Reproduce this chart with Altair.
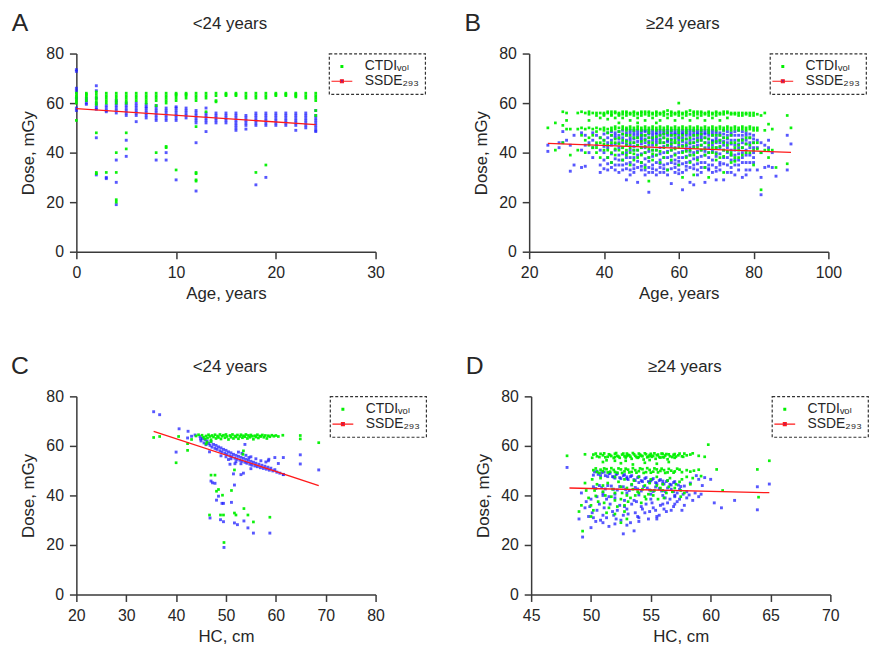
import altair as alt
import pandas as pd

FONT = "Liberation Sans, Arial, Helvetica, DejaVu Sans, sans-serif"
GREEN = "#00f000"
BLUE = "#1f1fff"
RED = "#ff1a1a"
TXT = "#262626"
AXIS = "#3a3a3a"

CT_LABEL = "CTDIᵥₒₗ"
SS_LABEL = "SSDE₂₉₃"

# ---------------- Panel A: age (<24 y) ----------------
A_ctdi = {
    0: [64, 63, 62, 61, 60, 53], 1: [64, 63.5, 63, 62, 61],
    2: [64.5, 63.5, 62.5, 61.5, 60.5, 59.5, 48, 32, 31.5], 3: [64, 63, 62, 61, 60, 32],
    4: [64, 63, 62, 61, 60, 40, 32, 21, 20], 5: [64, 63, 62, 61, 60, 48, 41.5],
    6: [64, 63, 62, 61], 7: [64, 63, 62, 61, 60], 8: [64, 63, 62, 61, 59, 40],
    9: [64, 63, 62, 61, 60, 42.5, 42], 10: [64, 63.5, 63, 62, 61, 33], 11: [64, 63.5, 63, 62],
    12: [64, 63, 62, 61, 50.5, 32, 31.5, 29, 28.5], 13: [64, 63, 62, 56.5], 14: [64, 63, 61, 60.5],
    15: [64, 63.5, 63], 16: [64, 63.5, 63], 17: [64, 63, 62], 18: [64, 63, 62, 32],
    19: [64, 63, 62, 35], 20: [64, 63.5, 63], 21: [64, 63.5, 63], 22: [64, 63.5, 63, 62.5],
    23: [64, 63, 62], 24: [64, 63, 62, 61, 57, 55],
}
A_ssde = {
    0: [73.5, 72.8, 66, 65, 62, 58, 57], 1: [62, 61, 60, 59.5],
    2: [67, 65, 62, 60, 59, 58, 57.5, 46, 31], 3: [59, 58, 57, 56.5, 30, 29.5],
    4: [61, 60, 59, 58, 57, 56, 37, 28, 19], 5: [60, 59, 58, 57, 56, 55, 45, 38.5],
    6: [60, 59, 58, 57, 56, 55, 52.5], 7: [59.5, 58.5, 58, 57, 56, 55, 54],
    8: [59, 58, 57, 56, 55, 54, 53, 37], 9: [58, 57, 56, 55, 54, 53, 40, 37],
    10: [58.5, 58, 57, 56, 55, 54, 53, 29], 11: [58, 57, 56, 55, 54],
    12: [57, 56, 55, 54, 53, 52, 44, 24.5], 13: [58, 56, 55, 54, 53, 52, 48.5],
    14: [56, 55, 54, 53, 52], 15: [56, 55, 54, 53, 52], 16: [56, 55, 54, 53, 52, 51, 50, 49],
    17: [55, 54, 53, 52, 51, 49.5], 18: [56, 55, 54, 53, 52, 51, 27],
    19: [56, 55, 54, 53, 52, 51, 30], 20: [56, 55, 54, 53, 52, 51], 21: [56, 55, 54, 53, 52, 51],
    22: [56, 55, 54, 53, 52, 51, 49], 23: [56, 55, 54, 53, 52, 51, 50],
    24: [57, 55, 54, 53, 52, 51, 50, 49, 48.5],
}
A_line_x = [0, 24]
A_line_y = [57.8, 51.3]

# ---------------- Panel B: age (>=24 y) ----------------
B_ctdi = {
    25: [50], 27: [52, 41], 29: [56.5, 51, 44], 30: [56, 53, 49.5], 31: [49.5, 39],
    33: [56, 49.5, 41], 34: [56.5, 50, 47], 35: [56, 49.5, 45, 40], 36: [56.5, 53, 50, 43],
    37: [56, 49.5, 47, 42], 38: [56, 55, 50, 44, 40], 39: [54, 49.5, 46, 38],
    40: [56, 55, 50, 45, 41], 41: [56, 53.5, 49.5, 43, 38], 42: [56.5, 55, 50, 47, 40, 36],
    43: [56, 54, 49.5, 44, 39], 44: [56, 55, 52, 50, 46, 41], 45: [56.5, 54, 49.5, 45, 42, 37],
    46: [56, 55, 50, 47, 43, 39], 47: [56, 53, 49.5, 44, 40, 35], 48: [56.5, 55, 50, 46, 41, 37],
    49: [56, 54, 52, 49.5, 43, 38], 50: [56, 55, 50, 47, 42, 36], 51: [56.5, 53, 49.5, 45, 40, 34],
    52: [56, 55, 50, 48, 44, 38, 28.5], 53: [56, 54, 49.5, 46, 41, 37], 54: [56.5, 55, 52, 50, 43, 39],
    55: [56, 53, 49.5, 47, 44, 36], 56: [56.5, 55, 50, 46, 42, 38], 57: [57, 54, 49.5, 48, 43, 33],
    58: [56, 55, 50, 45, 41, 37], 59: [56, 53, 49.5, 47, 44, 39], 60: [60, 56, 55, 50, 46, 42, 35],
    61: [56, 54, 49.5, 45, 40, 30], 62: [56.5, 55, 50, 48, 43, 38], 63: [57, 53, 49.5, 46, 41, 36],
    64: [56, 55, 50, 44, 39, 31], 65: [56.5, 54, 49.5, 47, 42, 37], 66: [56, 55, 50, 45, 41],
    67: [56, 53, 49.5, 46, 39, 34], 68: [56.5, 55, 50, 48, 43, 30], 69: [56, 54, 49.5, 44, 40],
    70: [56, 55, 50, 47, 42, 37], 71: [56, 53, 49.5, 45, 38], 72: [56.5, 50, 46, 41, 32],
    73: [56, 54, 49.5, 43], 74: [55.5, 50, 47, 40, 36], 75: [56, 49.5, 44, 38], 76: [55, 50, 45, 41],
    77: [56, 49.5, 42], 78: [55.5, 50, 46, 40], 79: [55, 49.5, 43], 80: [56, 50, 41, 35],
    81: [55.5, 49, 44], 82: [55, 40, 25], 83: [56, 49, 41], 84: [51.5, 41, 38], 85: [49.5, 41],
    86: [34], 89: [55, 35.5], 90: [50],
}
B_ctdi_more = {
    36: [55.5, 46], 38: [48.5, 42], 39: [56, 44], 40: [55.5, 49, 43.5], 41: [56.5, 48, 41],
    42: [55.5, 49, 44], 43: [56.5, 50.5, 45.5, 41.5], 44: [55.5, 48.5, 43.5],
    45: [55.5, 50.5, 47.5, 40], 46: [56.5, 49, 44.5, 41], 47: [55.5, 50.5, 47, 42],
    48: [56, 49, 44, 39.5], 49: [55.5, 50.5, 46, 41], 50: [56.5, 49, 44.5, 39],
    51: [55.5, 50.5, 47, 42.5], 52: [56.5, 49, 46, 41.5], 53: [55.5, 50.5, 44, 39.5],
    54: [56, 49, 46.5, 41], 55: [55.5, 50.5, 45, 40.5], 56: [56, 49, 47.5, 44],
    57: [55.5, 50.5, 45.5, 40], 58: [56.5, 49, 47, 43.5], 59: [55.5, 50.5, 45, 41.5],
    60: [56.5, 49, 48, 44], 61: [55.5, 50.5, 47, 42.5], 62: [56, 49, 45.5, 40.5],
    63: [55.5, 50.5, 44, 39], 64: [56.5, 49, 47, 42], 65: [55.5, 50.5, 45, 40],
    66: [56.5, 49, 47.5, 43], 67: [55.5, 50.5, 44, 41.5], 68: [56, 49, 45.5, 40],
    69: [55.5, 50.5, 47, 42], 70: [56.5, 49, 44.5, 39.5], 71: [55.5, 50.5, 47, 42.5],
    72: [55.5, 49, 44, 38.5], 73: [56.5, 50.5, 46, 40.5], 74: [56, 49, 44, 39],
    75: [55.5, 50.5, 42, 36.5], 76: [56, 49, 43, 38], 77: [55, 50.5, 45, 39],
    78: [56, 49, 43.5], 79: [56, 50.5, 46, 40], 80: [55, 49, 44], 81: [50, 41.5],
}
B_ssde = {
    25: [43, 40.5], 28: [42, 44], 29: [48.5, 44], 30: [45], 31: [32.5, 43], 32: [47, 35],
    34: [48, 41, 34], 35: [47, 43, 34.5], 36: [44, 40], 37: [48, 45, 42, 38], 38: [47, 43],
    39: [46, 41, 35, 32], 40: [45, 40, 33.5], 41: [48, 44, 38, 33], 42: [47, 43, 36, 34],
    43: [48, 46, 41, 33], 44: [47, 44, 39, 35, 32], 45: [49, 46, 42, 37, 33],
    46: [49.5, 47, 45, 40, 33.5, 29], 47: [48, 46, 43, 38, 33, 31], 48: [49, 47, 44, 41, 35, 32],
    49: [48, 46, 43, 39, 34, 28], 50: [49, 47, 45, 42, 36, 33], 51: [48.5, 47, 44, 40, 33, 31],
    52: [49, 46, 43, 38, 34, 24], 53: [48, 47, 45, 41, 35, 32], 54: [49, 46, 44, 39, 33, 31],
    55: [48, 47, 42, 37, 34], 56: [49, 46, 44, 40, 35, 32], 57: [48, 45, 43, 38, 33, 31],
    58: [49, 47, 44, 41, 36, 27.5], 59: [48, 46, 42, 37, 34, 32], 60: [49, 47, 45, 40, 35, 33],
    61: [48, 46, 43, 38, 32, 25], 62: [49, 47, 44, 41, 36, 33], 63: [48, 45, 42, 39, 34, 28],
    64: [49, 47, 44, 40, 35, 27], 65: [48, 46, 43, 38, 33, 31], 66: [49, 47, 45, 41, 36, 32],
    67: [48, 46, 42, 39, 34, 28], 68: [49, 47, 44, 40, 35, 33], 69: [48, 45, 43, 37, 32],
    70: [48.5, 46, 44, 40, 34, 29], 71: [48, 45, 42, 36, 33], 72: [49, 46, 43, 38, 29],
    73: [47, 44, 40, 35, 32], 74: [48, 45, 41, 37, 34], 75: [47, 43, 39, 35, 31],
    76: [49, 45, 42, 37, 33], 77: [47, 44, 40, 36, 30], 78: [48, 45, 41, 36, 33],
    79: [46, 42, 39, 33], 80: [47, 44, 40, 36], 81: [45, 42, 33], 82: [44, 40, 30, 23],
    83: [43, 34], 84: [45, 42, 34.5], 85: [40, 34], 86: [30.5], 89: [47, 33], 90: [43.5],
}
B_ssde_more = {
    40: [47.5, 42.5, 37], 41: [46, 42, 35.5], 42: [48.5, 45, 39.5], 43: [47, 43.5, 37.5, 35],
    44: [48.5, 45.5, 42, 37], 45: [47.5, 44, 39.5, 35], 46: [48, 43.5, 38, 35.5],
    47: [49, 45, 41, 36], 48: [48, 45.5, 42.5, 38, 33.5], 49: [49, 47, 44.5, 41, 36.5],
    50: [48, 46, 43.5, 39.5, 34.5], 51: [49, 45.5, 42, 37.5, 35], 52: [48, 47.5, 44.5, 40.5, 36.5, 32],
    53: [49, 46, 43, 38.5, 33.5], 54: [48, 47.5, 45, 41, 36], 55: [49, 45.5, 44, 39.5, 35.5, 32],
    56: [48, 47.5, 42.5, 38, 33.5], 57: [49, 47, 44.5, 40.5, 35.5], 58: [48, 45.5, 42.5, 38.5, 33.5],
    59: [49, 47.5, 44, 39.5, 35.5], 60: [48, 46, 43, 38, 36.5, 31.5], 61: [49, 47.5, 44.5, 40.5, 35.5],
    62: [48, 45.5, 42.5, 38.5, 34.5], 63: [49, 47, 43.5, 40.5, 36.5], 64: [48, 45.5, 42.5, 37.5, 33.5],
    65: [49, 47.5, 44.5, 40.5, 35.5], 66: [48, 46, 43, 38.5, 34], 67: [49, 47.5, 44, 40.5, 36],
    68: [48, 45.5, 42, 38, 33.5], 69: [49, 47, 44.5, 40.5, 35], 70: [47.5, 45, 42, 38.5, 32.5],
    71: [47, 44, 39.5, 35], 72: [47.5, 44.5, 41, 35.5], 73: [48.5, 45.5, 42, 38],
    74: [47, 43.5, 39, 32], 75: [48.5, 45, 41, 37], 76: [47, 43.5, 39.5, 35],
    77: [48.5, 45.5, 42, 38], 78: [47, 43.5, 39, 31], 79: [47.5, 44, 36], 80: [45.5, 42, 38],
}
B_line_x = [25, 90]
B_line_y = [43.7, 40.1]

# ---------------- Panel C: head circumference (<24 y) ----------------
C_ctdi = [
    (35.5, 63.4), (36.7, 63.8), (40.0, 53.2), (40.5, 63.8), (42.3, 60.9), (42.3, 58.2),
    (43.1, 62.6), (44.0, 64.0), (44.5, 64.5), (45.2, 64.3), (45.5, 63.5), (45.8, 62.8),
    (46.0, 64.0), (46.3, 63.2), (46.5, 64.5), (46.8, 63.8), (47.0, 62.5), (47.2, 64.2),
    (47.5, 63.6), (47.8, 64.5), (48.0, 63.0), (48.3, 64.0), (48.5, 63.4), (48.8, 64.6),
    (49.0, 62.8), (49.2, 63.9), (49.5, 64.3), (49.8, 63.3), (50.0, 64.6), (50.2, 63.8),
    (50.5, 62.6), (50.8, 64.2), (51.0, 63.5), (51.3, 64.6), (51.5, 63.0), (51.8, 64.0),
    (52.0, 63.6), (52.3, 64.4), (52.5, 62.9), (52.8, 63.8), (53.0, 64.5), (53.3, 63.3),
    (53.5, 64.1), (53.8, 63.7), (54.0, 64.6), (54.3, 63.0), (54.5, 64.2), (54.8, 63.5),
    (55.0, 64.4), (55.3, 63.9), (55.5, 62.7), (55.8, 64.1), (56.0, 63.6), (56.3, 64.5),
    (56.5, 63.2), (56.8, 64.0), (57.0, 63.8), (57.3, 64.4), (57.6, 63.5), (57.9, 64.2),
    (58.2, 63.0), (58.5, 64.1), (58.8, 63.7), (59.2, 64.3), (59.6, 63.9), (60.0, 64.2),
    (60.5, 63.8), (61.4, 64.3), (46.2, 61.5), (46.0, 60.8), (47.0, 61.8), (53.5, 58.0),
    (53.4, 56.6), (51.7, 50.3), (47.0, 48.2), (47.8, 48.2), (48.1, 41.7), (48.5, 42.4),
    (49.3, 40.1), (46.7, 32.1), (48.9, 32.1), (49.5, 32.1), (49.6, 21.0), (51.1, 42.0),
    (51.7, 32.9), (52.0, 32.1), (53.6, 34.7), (54.4, 32.1), (55.5, 29.3), (58.8, 31.2),
    (64.9, 64.2), (64.9, 62.8), (68.6, 61.3),
]
C_ssde = [
    (35.5, 73.8), (36.7, 72.6), (40.6, 66.9), (40.0, 57.5), (42.4, 65.9), (42.3, 63.2),
    (43.1, 63.9), (43.8, 64.4), (44.9, 62.8), (46.7, 57.6), (47.0, 45.8), (47.3, 45.1),
    (47.8, 44.9), (48.5, 39.7), (48.1, 38.1), (49.2, 36.8), (49.5, 36.8), (46.8, 30.9),
    (48.9, 30.2), (49.5, 29.4), (49.6, 19.0), (51.1, 37.2), (51.7, 44.2), (51.5, 48.7),
    (51.7, 28.9), (52.3, 28.2), (53.6, 29.7), (54.4, 26.9), (55.5, 24.8), (58.8, 24.8),
    (53.0, 48.4), (53.5, 49.0), (53.8, 60.6), (54.6, 55.3), (59.8, 55.3), (61.5, 55.3),
    (60.5, 52.9), (58.6, 54.6), (61.5, 48.4), (64.9, 56.4), (64.9, 52.7), (68.6, 50.3),
    (44.8, 63.8), (45.0, 62.0), (45.3, 63.0), (45.6, 61.2), (45.8, 62.6), (46.0, 60.5),
    (46.2, 62.0), (46.5, 61.0), (46.8, 60.2), (47.0, 61.6), (47.2, 59.5), (47.5, 60.6),
    (47.8, 59.0), (48.0, 60.2), (48.2, 58.6), (48.5, 59.6), (48.8, 58.0), (49.0, 59.2),
    (49.2, 57.5), (49.5, 58.6), (49.8, 57.0), (50.0, 58.2), (50.2, 56.5), (50.5, 57.6),
    (50.8, 56.0), (51.0, 57.2), (51.2, 55.6), (51.5, 56.6), (51.8, 55.0), (52.0, 56.2),
    (52.2, 54.6), (52.5, 55.8), (52.8, 54.2), (53.0, 55.4), (53.2, 53.8), (53.5, 55.0),
    (53.8, 53.4), (54.0, 54.6), (54.2, 53.0), (54.5, 54.2), (54.8, 52.6), (55.0, 53.8),
    (55.2, 52.2), (55.5, 53.4), (55.8, 51.9), (56.0, 53.0), (56.3, 51.6), (56.6, 52.6),
    (56.9, 51.2), (57.2, 52.2), (57.5, 50.9), (57.8, 51.8), (58.1, 50.6), (58.4, 51.4),
    (58.7, 50.2), (59.0, 51.0), (59.4, 49.9), (59.8, 50.4), (60.2, 49.4), (60.8, 49.0),
    (61.5, 48.5), (53.0, 52.8), (52.0, 53.6), (51.0, 54.8), (50.0, 55.6), (54.0, 56.2),
    (55.0, 55.6), (56.0, 54.8), (57.0, 54.0), (58.0, 53.5), (53.2, 57.0), (51.8, 52.8),
    (50.8, 52.6), (55.0, 50.8), (58.5, 54.0), (49.0, 56.0), (50.5, 54.5), (52.5, 57.5),
]
C_line_x = [35.5, 68.6]
C_line_y = [65.9, 44.0]

# ---------------- Panel D: head circumference (>=24 y) ----------------
D_ctdi = [
    (50.2, 56.5), (50.5, 55.8), (50.8, 56.8), (51.0, 56.2), (51.2, 55.4), (51.5, 56.6),
    (51.7, 55.9), (52.0, 56.8), (52.2, 56.0), (52.4, 55.2), (52.6, 56.5), (52.8, 55.8),
    (53.0, 56.9), (53.2, 56.2), (53.4, 54.8), (53.6, 56.6), (53.8, 55.5), (54.0, 56.9),
    (54.2, 56.1), (54.4, 54.5), (54.6, 56.6), (54.8, 55.7), (55.0, 56.8), (55.2, 56.0),
    (55.4, 54.8), (55.6, 56.5), (55.8, 55.3), (56.0, 56.8), (56.2, 56.1), (56.5, 56.6),
    (56.8, 55.5), (57.0, 56.7), (57.3, 56.2), (57.6, 55.8), (57.8, 56.9), (58.3, 56.5),
    (59.0, 56.0), (59.5, 55.6), (59.8, 60.5), (51.0, 53.5), (52.5, 53.0), (53.5, 52.5),
    (54.5, 53.2), (55.5, 52.8), (56.5, 53.5), (52.0, 54.0), (48.0, 56.0), (49.5, 56.6),
    (50.2, 50.2), (50.5, 49.5), (50.8, 50.4), (51.0, 49.8), (51.3, 50.6), (51.6, 49.6),
    (51.9, 50.3), (52.2, 49.2), (52.5, 50.5), (52.8, 49.7), (53.1, 50.4), (53.4, 49.5),
    (53.7, 50.2), (54.0, 49.8), (54.3, 50.6), (54.6, 49.4), (54.9, 50.3), (55.2, 49.6),
    (55.5, 50.5), (55.8, 49.9), (56.1, 50.2), (56.4, 49.3), (56.7, 50.0), (57.0, 49.7),
    (57.4, 50.4), (58.0, 50.2), (58.6, 50.0), (60.5, 50.5), (63.9, 50.5), (64.9, 54.0),
    (49.5, 45.0), (49.8, 39.0), (50.0, 36.0), (50.3, 42.0), (50.6, 37.5), (51.0, 44.0),
    (51.2, 40.0), (51.5, 35.0), (51.8, 42.5), (52.0, 38.0), (52.3, 45.5), (52.6, 41.0),
    (52.8, 36.0), (53.0, 43.0), (53.3, 39.0), (53.6, 46.0), (53.9, 41.5), (54.2, 37.0),
    (54.5, 44.0), (54.8, 40.5), (55.0, 46.5), (55.3, 42.0), (55.6, 38.5), (56.0, 44.5),
    (56.3, 41.0), (56.6, 47.0), (57.0, 43.0), (57.4, 45.5), (57.8, 41.0), (58.5, 47.0),
    (61.0, 42.0), (64.0, 39.3), (49.3, 25.6), (49.0, 33.5), (50.0, 31.5), (53.0, 30.5),
    (52.5, 29.0),
]
D_ctdi_more = [
    (50.1, 55.2), (50.4, 56.9), (50.7, 55.5), (51.1, 57.0), (51.4, 55.6), (51.6, 56.3),
    (51.9, 55.1), (52.1, 57.1), (52.3, 55.7), (52.7, 56.9), (52.9, 55.3), (53.1, 56.4),
    (53.3, 55.6), (53.5, 57.1), (53.7, 56.0), (53.9, 55.2), (54.1, 56.5), (54.3, 55.8),
    (54.5, 57.0), (54.7, 55.4), (54.9, 56.3), (55.1, 55.6), (55.3, 57.0), (55.5, 56.2),
    (55.7, 55.5), (55.9, 56.9), (56.1, 55.4), (56.3, 56.7), (56.6, 55.8), (56.9, 56.4),
    (57.1, 55.7), (57.4, 56.9), (57.7, 55.6), (58.0, 56.2), (58.5, 57.0), (52.0, 55.5),
    (53.0, 55.9), (54.0, 55.5), (55.0, 55.9), (56.0, 55.5), (57.0, 55.2), (51.3, 54.2),
    (52.9, 54.0), (54.9, 54.3), (56.4, 54.6),
    (50.4, 50.9), (50.7, 49.1), (51.1, 50.9), (51.4, 49.3), (51.7, 51.0), (52.0, 49.5),
    (52.3, 50.9), (52.6, 49.1), (52.9, 50.8), (53.2, 49.3), (53.5, 51.0), (53.8, 49.2),
    (54.1, 50.9), (54.4, 49.1), (54.7, 51.0), (55.0, 49.2), (55.3, 50.9), (55.6, 49.3),
    (55.9, 50.8), (56.2, 49.1), (56.5, 50.7), (56.9, 49.2), (57.2, 50.8), (57.6, 49.4),
    (58.3, 49.6), (59.0, 50.4), (58.0, 47.5), (57.6, 46.5),
    (49.6, 42.0), (50.1, 46.5), (50.4, 39.8), (50.8, 47.0), (51.1, 37.0), (51.4, 45.0),
    (51.7, 39.5), (52.0, 47.5), (52.2, 35.5), (52.5, 43.5), (52.8, 46.5), (53.1, 37.5),
    (53.4, 44.5), (53.7, 40.0), (54.0, 47.5), (54.3, 42.5), (54.6, 38.5), (54.9, 45.0),
    (55.2, 40.0), (55.5, 47.5), (55.8, 43.0), (56.1, 39.0), (56.4, 46.0), (56.8, 41.5),
    (57.1, 44.5), (57.5, 39.5), (52.0, 41.0), (53.0, 40.0), (54.0, 41.0), (55.0, 42.0),
    (56.0, 42.0), (51.0, 41.5), (50.5, 44.5), (52.5, 38.5), (53.5, 42.5), (54.5, 39.5),
    (55.5, 44.0), (56.5, 43.5), (57.5, 42.0), (58.3, 44.5), (59.2, 47.8), (50.2, 34.0),
    (51.3, 33.0), (52.0, 32.5), (52.8, 33.5), (49.2, 36.0),
]
D_ssde = [
    (50.3, 49.5), (50.6, 48.5), (50.9, 49.2), (51.2, 48.0), (51.5, 48.8), (51.8, 47.6),
    (52.1, 48.4), (52.4, 47.2), (52.7, 48.0), (53.0, 46.8), (53.3, 47.6), (53.6, 46.4),
    (53.9, 47.2), (54.2, 46.0), (54.5, 46.8), (54.8, 45.6), (55.1, 46.4), (55.4, 45.2),
    (55.7, 46.0), (56.0, 44.8), (56.3, 45.6), (56.6, 44.5), (56.9, 45.2), (57.3, 44.2),
    (57.8, 43.8), (58.3, 45.0), (59.0, 46.5), (59.5, 47.2), (60.0, 46.5), (58.8, 48.0),
    (59.3, 44.0), (50.2, 43.5), (50.7, 44.0), (51.2, 42.6), (51.7, 43.8), (52.2, 42.2),
    (52.7, 43.5), (53.2, 42.0), (53.7, 43.2), (54.2, 41.8), (54.7, 43.0), (55.2, 41.6),
    (55.7, 42.8), (56.2, 41.5), (56.7, 42.5), (57.2, 41.0), (57.7, 40.5), (58.2, 40.2),
    (58.7, 41.0), (59.2, 40.5), (49.2, 41.0), (49.5, 35.0), (49.8, 31.5), (50.1, 33.0),
    (50.4, 29.5), (50.7, 36.5), (51.0, 32.0), (51.3, 38.5), (51.5, 27.5), (51.8, 33.5),
    (52.1, 30.5), (52.4, 36.0), (52.7, 32.0), (53.0, 34.5), (53.3, 29.0), (53.6, 38.0),
    (53.9, 31.5), (54.2, 35.5), (54.5, 33.0), (54.8, 30.5), (55.1, 37.0), (55.4, 34.0),
    (55.7, 32.0), (56.0, 36.5), (56.3, 33.5), (56.6, 38.5), (56.9, 35.5), (57.2, 37.5),
    (57.6, 34.0), (58.0, 39.0), (48.0, 51.3), (49.3, 23.2), (52.7, 24.5), (53.6, 25.7),
    (50.0, 27.0), (49.0, 30.5), (49.6, 37.5), (50.5, 39.5), (51.0, 40.0), (52.0, 39.0),
    (60.3, 37.0), (60.9, 35.0), (63.9, 43.5), (63.9, 34.2), (64.9, 44.6), (62.0, 38.0),
]
D_ssde_more = [
    (50.2, 48.2), (50.5, 49.8), (50.8, 48.0), (51.1, 49.4), (51.4, 47.6), (51.6, 49.0),
    (51.9, 47.4), (52.2, 48.8), (52.5, 46.8), (52.8, 48.4), (53.1, 46.4), (53.4, 48.0),
    (53.7, 46.0), (54.0, 47.6), (54.3, 45.6), (54.6, 47.2), (54.9, 45.2), (55.2, 46.8),
    (55.5, 44.8), (55.8, 46.4), (56.1, 44.6), (56.4, 46.0), (56.7, 44.2), (57.0, 45.6),
    (57.5, 43.6), (52.0, 47.0), (53.0, 47.5), (54.0, 45.2), (55.0, 45.9), (56.0, 45.8),
    (50.4, 42.8), (50.9, 43.2), (51.4, 44.0), (51.9, 42.5), (52.4, 43.6), (52.9, 42.4),
    (53.4, 44.2), (53.9, 42.6), (54.4, 43.6), (54.9, 42.2), (55.4, 43.4), (55.9, 41.8),
    (56.4, 43.0), (56.9, 41.5), (57.4, 42.5), (51.0, 41.0), (52.0, 40.5), (53.0, 41.0),
    (54.0, 40.2), (55.0, 40.5), (56.0, 40.0), (57.0, 39.5), (58.0, 41.5),
    (49.9, 35.5), (50.2, 31.0), (50.5, 34.0), (50.8, 30.0), (51.1, 35.0), (51.3, 31.0),
    (51.6, 36.5), (51.9, 32.0), (52.2, 34.0), (52.5, 30.0), (52.8, 35.5), (53.1, 32.5),
    (53.4, 36.5), (53.7, 33.0), (54.0, 31.0), (54.3, 34.5), (54.6, 36.5), (54.9, 33.5),
    (55.2, 35.0), (55.5, 31.5), (55.8, 36.0), (56.1, 34.5), (56.4, 37.0), (56.7, 34.0),
    (57.0, 36.5), (57.4, 38.5), (57.8, 36.0), (52.0, 28.5), (53.0, 28.0), (51.0, 29.0),
    (54.0, 29.5), (55.5, 30.5), (50.0, 38.5), (51.5, 39.5), (52.8, 38.0), (53.8, 37.5),
    (55.0, 38.5), (56.2, 39.0), (57.0, 40.0), (58.5, 38.0), (59.0, 39.5),
]
D_line_x = [48.2, 64.9]
D_line_y = [43.0, 41.1]

Y_TICKS = [0, 20, 40, 60, 80]
SYMBOL = "M-2.1,0H2.1M-0.3,-0.3H0.3V0.3H-0.3Z"
W, H = 302, 200


def pairs(*sets):
    out = []
    for d in sets:
        if isinstance(d, dict):
            out += [(k, v) for k, vals in d.items() for v in vals]
        else:
            out += list(d)
    return out


def panel(letter, heading, ct_pts, ss_pts, line_x, line_y, x_domain, x_ticks, x_title,
          legend_x):
    ct, ss = CT_LABEL, SS_LABEL
    dom = [ct, ss]
    df_ct = pd.DataFrame(ct_pts, columns=["x", "dose"])
    df_ct["series"] = ct
    df_ss = pd.DataFrame(ss_pts, columns=["x", "dose"])
    df_ss["series"] = ss
    df_line = pd.DataFrame({"x": line_x, "dose": line_y})
    df_line["series"] = ss

    leg = alt.Legend(title=None, orient="none", legendX=legend_x, legendY=0,
                     direction="vertical", symbolType=SYMBOL)
    x = alt.X("x:Q", scale=alt.Scale(domain=x_domain, nice=False, zero=False),
              axis=alt.Axis(values=x_ticks, title=x_title, titlePadding=5))
    y = alt.Y("dose:Q", scale=alt.Scale(domain=[0, 80], nice=False),
              axis=alt.Axis(values=Y_TICKS, title="Dose, mGy", titlePadding=8))
    color = alt.Color("series:N", scale=alt.Scale(domain=dom, range=[GREEN, BLUE]), legend=leg)

    # SSDE (blue) drawn first, CTDIvol (green) on top, as in the reference
    p_ss = alt.Chart(df_ss).mark_square(size=8.5, opacity=0.75).encode(x=x, y=y, color=color)
    p_ct = alt.Chart(df_ct).mark_square(size=7.5, opacity=0.95).encode(x=x, y=y, color=color)
    ln = alt.Chart(df_line).mark_line(strokeWidth=1.3).encode(
        x=x, y=y,
        stroke=alt.Stroke("series:N", scale=alt.Scale(domain=dom, range=["transparent", RED]),
                          legend=leg))
    lab = alt.Chart(alt.Data(values=[{"t": letter}])).mark_text(
        font=FONT, fontSize=25, align="center", baseline="middle", color=TXT
    ).encode(text="t:N", x=alt.value(-57), y=alt.value(-31))
    head = alt.Chart(alt.Data(values=[{"t": heading}])).mark_text(
        font=FONT, fontSize=17, align="center", baseline="middle", color=TXT
    ).encode(text="t:N", x=alt.value(155), y=alt.value(-30))
    return alt.layer(p_ss, p_ct, ln, lab, head).properties(width=W, height=H)


pA = panel("A", "<24 years", pairs(A_ctdi), pairs(A_ssde), A_line_x, A_line_y, [0, 30],
           [0, 10, 20, 30], "Age, years", 255)
pB = panel("B", "≥24 years", pairs(B_ctdi, B_ctdi_more), pairs(B_ssde, B_ssde_more),
           B_line_x, B_line_y, [20, 100], [20, 40, 60, 80, 100], "Age, years", 243)
pC = panel("C", "<24 years", pairs(C_ctdi), pairs(C_ssde), C_line_x, C_line_y, [20, 80],
           [20, 30, 40, 50, 60, 70, 80], "HC, cm", 256)
pD = panel("D", "≥24 years", pairs(D_ctdi, D_ctdi_more), pairs(D_ssde, D_ssde_more),
           D_line_x, D_line_y, [45, 70], [45, 50, 55, 60, 65, 70], "HC, cm", 243)


def resolved(c):
    return c.resolve_scale(x="independent", y="independent", color="independent",
                           stroke="independent").resolve_legend(color="independent",
                                                                stroke="independent")


row1 = resolved(alt.hconcat(pA, pB, spacing=38))
row2 = resolved(alt.hconcat(pC, pD, spacing=38))
chart = resolved(alt.vconcat(row1, row2, spacing=53)).properties(
    padding={"left": 2, "top": 0, "right": 0, "bottom": 0}
).configure_view(stroke=None).configure_axis(
    grid=False, labelFont=FONT, labelFontSize=16, labelColor=TXT, labelPadding=6,
    labelFlush=False, titleFont=FONT, titleFontSize=17, titleFontWeight="normal",
    titleColor=TXT, domainColor=AXIS, domainWidth=1.5, tickColor=AXIS,
    tickWidth=1.5, tickSize=7
).configure_legend(
    strokeColor="#333333", strokeDash=[3, 2], strokeWidth=1.2, padding=6,
    labelFont=FONT, labelFontSize=14, labelColor=TXT, labelOffset=16, labelLimit=300,
    symbolSize=100, symbolStrokeWidth=1.1, symbolOpacity=1, rowPadding=1
)

chart.save("out.html", embed_options={"renderer": "svg", "actions": False})
